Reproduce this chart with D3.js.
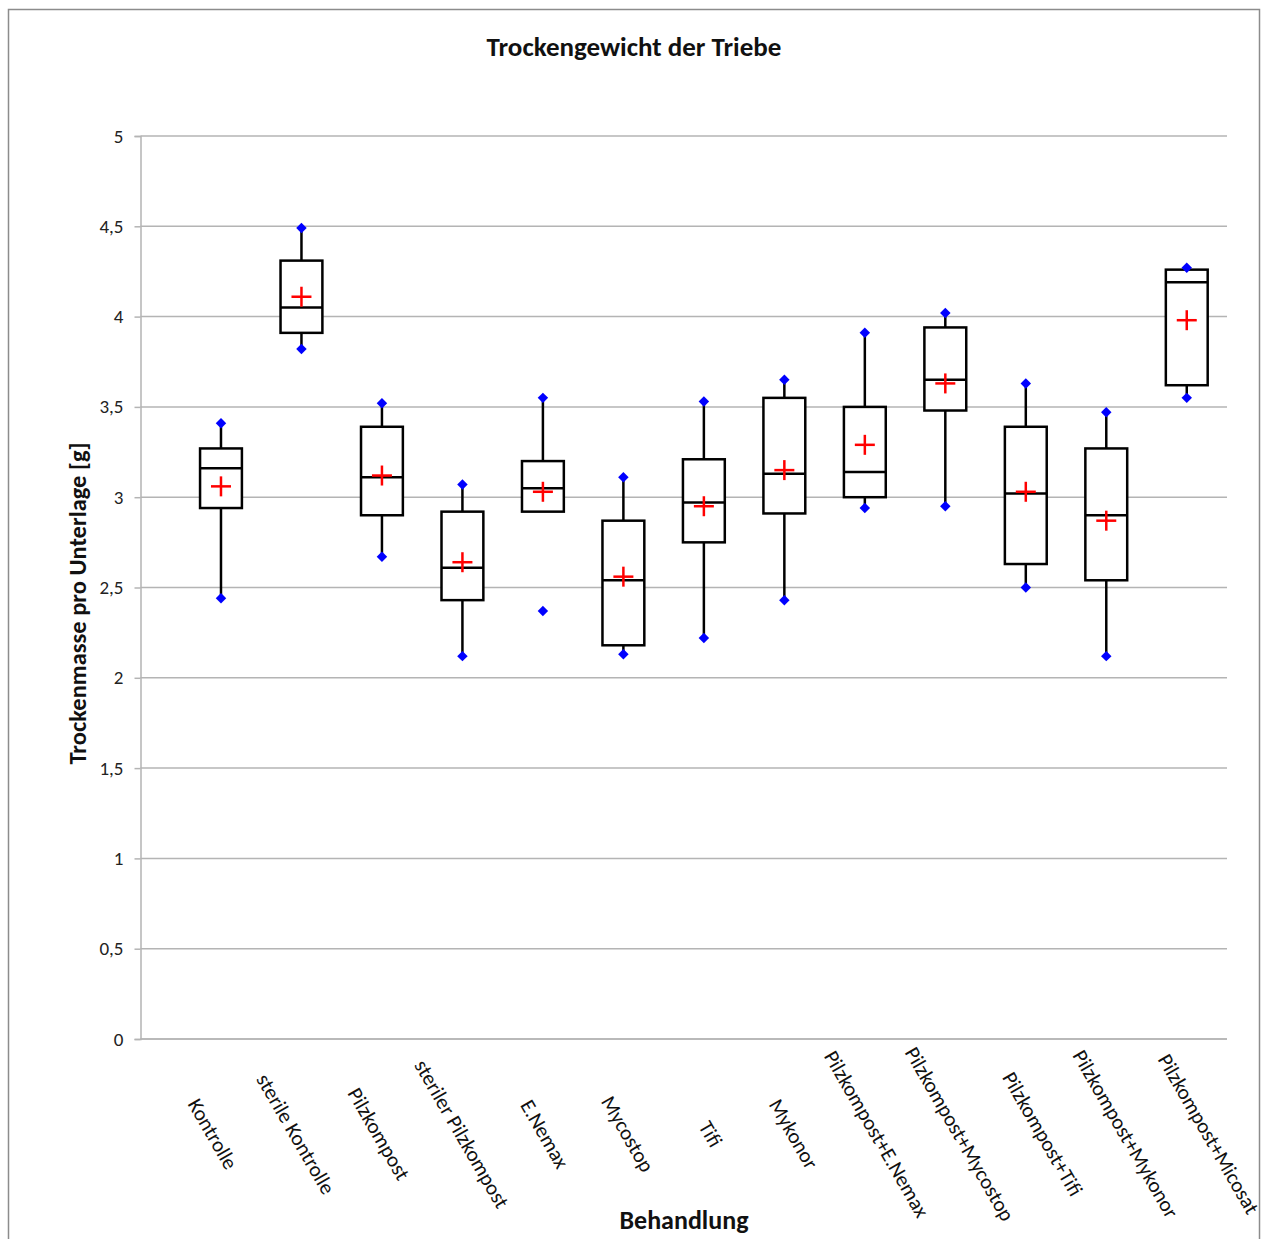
<!DOCTYPE html>
<html>
<head>
<meta charset="utf-8">
<script src="https://cdn.jsdelivr.net/npm/d3@7"></script>
<style>
  body { margin: 0; background: #fff; }
  svg { font-family: Carlito, Calibri, Lato, sans-serif; }
</style>
</head>
<body>
<svg id="chart"></svg>
<script>
// Categories (Behandlung)
const categories = [
    "Kontrolle", "sterile Kontrolle", "Pilzkompost", "steriler Pilzkompost",
    "E.Nemax", "Mycostop", "Tifi", "Mykonor", "Pilzkompost+E.Nemax",
    "Pilzkompost+Mycostop", "Pilzkompost+Tifi", "Pilzkompost+Mykonor",
    "Pilzkompost+Micosat"
];

// Box plot statistics, one value per category
const minValues    = [2.44, 3.82, 2.67, 2.12, 2.37, 2.13, 2.22, 2.43, 2.94, 2.95, 2.50, 2.12, 3.55];
const q1Values     = [2.94, 3.91, 2.90, 2.43, 2.92, 2.18, 2.75, 2.91, 3.00, 3.48, 2.63, 2.54, 3.62];
const medianValues = [3.16, 4.05, 3.11, 2.61, 3.05, 2.54, 2.97, 3.13, 3.14, 3.65, 3.02, 2.90, 4.19];
const q3Values     = [3.27, 4.31, 3.39, 2.92, 3.20, 2.87, 3.21, 3.55, 3.50, 3.94, 3.39, 3.27, 4.26];
const maxValues    = [3.41, 4.49, 3.52, 3.07, 3.55, 3.11, 3.53, 3.65, 3.91, 4.02, 3.63, 3.47, 4.27];
const meanValues   = [3.06, 4.11, 3.12, 2.64, 3.03, 2.56, 2.95, 3.15, 3.29, 3.63, 3.03, 2.87, 3.98];
// lower whisker end (E.Nemax has no lower whisker in the original)
const lowWhisker   = [2.44, 3.82, 2.67, 2.12, 2.92, 2.13, 2.22, 2.43, 2.94, 2.95, 2.50, 2.12, 3.55];

// Y axis ticks
const yTicks = [0, 0.5, 1, 1.5, 2, 2.5, 3, 3.5, 4, 4.5, 5];

const width = 1264, height = 1239;
const plot = { left: 140.5, right: 1227, top: 136, bottom: 1039 };
const gridColor = "#b4b4b4";

const data = categories.map((c, i) => ({
    name: c, idx: i + 1,
    min: minValues[i], q1: q1Values[i], median: medianValues[i],
    q3: q3Values[i], max: maxValues[i], mean: meanValues[i], low: lowWhisker[i]
}));

const svg = d3.select("#chart")
    .attr("width", width)
    .attr("height", height);

// chart border
svg.append("rect")
    .attr("x", 8.5).attr("y", 9.5)
    .attr("width", 1251).attr("height", 1240)
    .attr("fill", "none")
    .attr("stroke", "#8c8c8c")
    .attr("stroke-width", 1.5);

// Scales
const x = d3.scaleLinear()
    .domain([0, 13.5])
    .range([plot.left, plot.right]);

const y = d3.scaleLinear()
    .domain([0, 5])
    .range([plot.bottom, plot.top]);

// Gridlines
svg.append("g")
    .selectAll("line")
    .data(yTicks)
    .enter()
    .append("line")
    .attr("x1", plot.left)
    .attr("x2", plot.right)
    .attr("y1", d => y(d))
    .attr("y2", d => y(d))
    .attr("stroke", gridColor)
    .attr("stroke-width", 1.5);

// Y axis
const yAxis = d3.axisLeft(y)
    .tickValues(yTicks)
    .tickSize(6)
    .tickPadding(11)
    .tickFormat(d => String(d).replace(".", ","));

const yg = svg.append("g")
    .attr("transform", `translate(${plot.left}, 0)`)
    .call(yAxis);
yg.select(".domain").attr("stroke", gridColor).attr("stroke-width", 1.5);
yg.selectAll(".tick line").attr("stroke", gridColor).attr("stroke-width", 1.5);
yg.selectAll(".tick text")
    .attr("fill", "#222")
    .style("font-size", "19px")
    .style("font-family", "Carlito, Calibri, Lato, sans-serif");

// X axis labels (rotated, spread a little outward like the original)
svg.append("g")
    .selectAll("text")
    .data(data)
    .enter()
    .append("text")
    .attr("transform", d => `translate(${x(d.idx) + (d.idx - 5) * 2.5}, 1135) rotate(60)`)
    .attr("text-anchor", "middle")
    .attr("dominant-baseline", "middle")
    .attr("fill", "#111")
    .style("font-size", "21px")
    .text(d => d.name);

const boxW = x(0.52) - x(0);

const boxes = svg.append("g")
    .selectAll("g")
    .data(data)
    .enter()
    .append("g");

// whiskers
boxes.append("line")
    .attr("x1", d => x(d.idx)).attr("x2", d => x(d.idx))
    .attr("y1", d => y(d.max)).attr("y2", d => y(d.q3))
    .attr("stroke", "#000").attr("stroke-width", 2.5);

boxes.append("line")
    .attr("x1", d => x(d.idx)).attr("x2", d => x(d.idx))
    .attr("y1", d => y(d.q1)).attr("y2", d => y(d.low))
    .attr("stroke", "#000").attr("stroke-width", 2.5);

// box
boxes.append("rect")
    .attr("x", d => x(d.idx) - boxW / 2)
    .attr("width", boxW)
    .attr("y", d => y(d.q3))
    .attr("height", d => y(d.q1) - y(d.q3))
    .attr("fill", "#fff")
    .attr("stroke", "#000")
    .attr("stroke-width", 2.5);

// median
boxes.append("line")
    .attr("x1", d => x(d.idx) - boxW / 2).attr("x2", d => x(d.idx) + boxW / 2)
    .attr("y1", d => y(d.median)).attr("y2", d => y(d.median))
    .attr("stroke", "#000").attr("stroke-width", 2.5);

// min / max diamonds
const diamond = d3.symbol().type(d3.symbolDiamond2).size(70);
["min", "max"].forEach(k => {
    boxes.append("path")
        .attr("d", diamond)
        .attr("transform", d => `translate(${x(d.idx)}, ${y(d[k])})`)
        .attr("fill", "#0000ff");
});

// mean cross
const crossHalf = 10;
boxes.append("line")
    .attr("x1", d => x(d.idx) - crossHalf).attr("x2", d => x(d.idx) + crossHalf)
    .attr("y1", d => y(d.mean)).attr("y2", d => y(d.mean))
    .attr("stroke", "#ff0000").attr("stroke-width", 2.5);
boxes.append("line")
    .attr("x1", d => x(d.idx)).attr("x2", d => x(d.idx))
    .attr("y1", d => y(d.mean) - crossHalf).attr("y2", d => y(d.mean) + crossHalf)
    .attr("stroke", "#ff0000").attr("stroke-width", 2.5);

// X axis line (drawn on top of gridline at 0)
svg.append("line")
    .attr("x1", plot.left).attr("x2", plot.right)
    .attr("y1", y(0)).attr("y2", y(0))
    .attr("stroke", gridColor).attr("stroke-width", 1.5);

// Titles
svg.append("text")
    .attr("x", 634).attr("y", 56)
    .attr("text-anchor", "middle")
    .style("font-size", "27px")
    .style("font-weight", "bold")
    .attr("fill", "#111")
    .text("Trockengewicht der Triebe");

svg.append("text")
    .attr("transform", `translate(86, ${(plot.top + plot.bottom) / 2 + 16}) rotate(-90)`)
    .attr("text-anchor", "middle")
    .style("font-size", "24.5px")
    .style("font-weight", "bold")
    .attr("fill", "#111")
    .text("Trockenmasse pro Unterlage [g]");

svg.append("text")
    .attr("x", 684).attr("y", 1229)
    .attr("text-anchor", "middle")
    .style("font-size", "26px")
    .style("font-weight", "bold")
    .attr("fill", "#111")
    .text("Behandlung");
</script>
</body>
</html>
